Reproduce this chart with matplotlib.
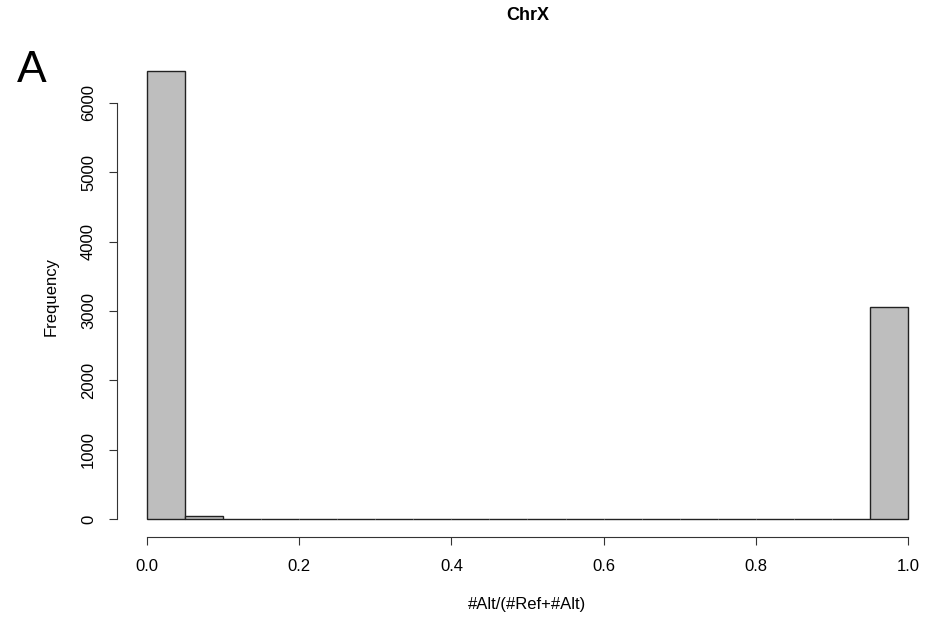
import matplotlib
matplotlib.use("Agg")
import matplotlib.pyplot as plt
import numpy as np

plt.rcParams['font.family'] = ['Liberation Sans', 'DejaVu Sans']

# Histogram data (bins of width 0.05 from 0 to 1)
bin_edges = [0.0, 0.05, 0.10, 0.15, 0.20, 0.25, 0.30, 0.35, 0.40, 0.45, 0.50,
             0.55, 0.60, 0.65, 0.70, 0.75, 0.80, 0.85, 0.90, 0.95, 1.00]
counts = [6460, 40, 3, 8, 3, 7, 7, 7, 7, 7, 7,
          3, 7, 7, 7, 3, 3, 7, 7, 3050]
x_ticks = [0.0, 0.2, 0.4, 0.6, 0.8, 1.0]
x_ticklabels = ["0.0", "0.2", "0.4", "0.6", "0.8", "1.0"]
y_ticks = [0, 1000, 2000, 3000, 4000, 5000, 6000]

W, H = 935, 620
fig = plt.figure(figsize=(W / 100, H / 100), dpi=100)
left_px, right_px, top_px, bottom_px = 116.6, 938.4, 53, 537
ax = fig.add_axes([left_px / W, 1 - bottom_px / H,
                   (right_px - left_px) / W, (bottom_px - top_px) / H])

widths = np.diff(bin_edges)
ax.bar(bin_edges[:-1], counts, width=widths, align='edge',
       color='#BEBEBE', edgecolor='#222222', linewidth=1.0)

xr = bin_edges[-1] - bin_edges[0]
ax.set_xlim(bin_edges[0] - 0.04 * xr, bin_edges[-1] + 0.04 * xr)
ymax = max(counts)
ax.set_ylim(-0.04 * ymax, ymax * 1.04)

for s in ax.spines.values():
    s.set_visible(False)

ax.set_xticks(x_ticks)
ax.set_xticklabels(x_ticklabels)
ax.set_yticks(y_ticks)
ax.set_yticklabels([str(v) for v in y_ticks], rotation=90, va='center')
ax.tick_params(axis='both', length=5.8, width=0.8, color='#333333',
               labelsize=12)
ax.tick_params(axis='x', pad=10)
ax.tick_params(axis='y', pad=9)

# R-style axis lines spanning first to last tick
ax.plot([x_ticks[0], x_ticks[-1]], [-0.04 * ymax] * 2, color='#333333',
        lw=0.8, clip_on=False)
ax.plot([bin_edges[0] - 0.04 * xr] * 2, [y_ticks[0], y_ticks[-1]],
        color='#333333', lw=0.8, clip_on=False)

fig.text(527.5 / W, 1 - 16 / H, "ChrX", ha='center', va='center',
         fontsize=13, fontweight='bold')
fig.text(527 / W, 1 - 604 / H, "#Alt/(#Ref+#Alt)", ha='center',
         va='center', fontsize=12)
fig.text(51 / W, 1 - 296 / H, "Frequency", ha='center', va='center',
         fontsize=12, rotation=90)
fig.text(31.5 / W, 1 - 71 / H, "A", ha='center', va='center', fontsize=32)

fig.savefig("out.png", dpi=100)
